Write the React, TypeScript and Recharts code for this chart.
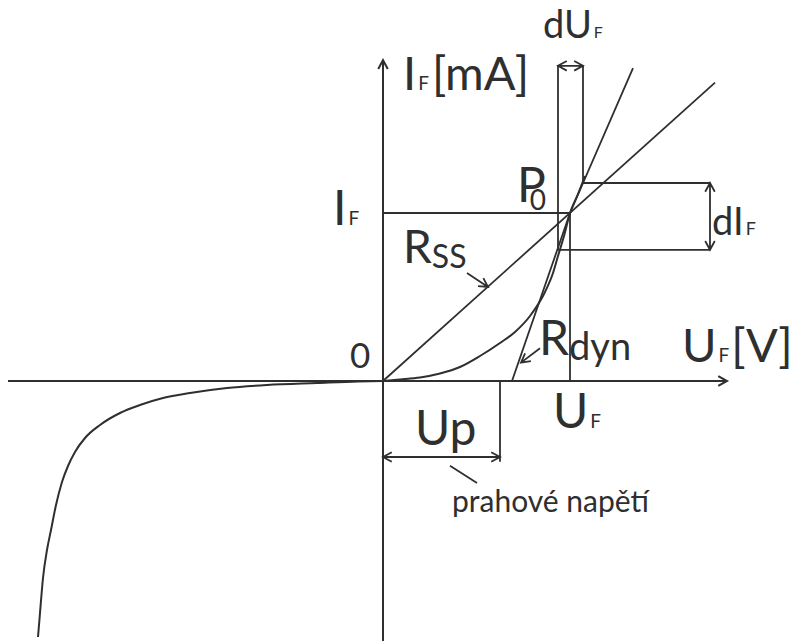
import { ComposedChart, Line, ReferenceDot, ReferenceLine, XAxis, YAxis } from 'recharts'

const INK = '#2f2f2f'
const FONT = 'Lato, "Open Sans", sans-serif'

// plot window, U in V and I in mA
const uDomain = [-1.915, 2.055]
const iDomain = [-32.5, 47.625]

// forward branch of the diode characteristic
const forwardCurve = [
  { u: 0, i: 0 },
  { u: 0.085, i: 0.19 },
  { u: 0.185, i: 0.44 },
  { u: 0.285, i: 0.94 },
  { u: 0.385, i: 1.75 },
  { u: 0.485, i: 3.125 },
  { u: 0.585, i: 4.75 },
  { u: 0.66, i: 6.125 },
  { u: 0.735, i: 8.125 },
  { u: 0.81, i: 11.125 },
  { u: 0.85, i: 13.5 },
  { u: 0.875, i: 15.625 },
  { u: 0.905, i: 18.125 },
  { u: 0.935, i: 21 },
  { u: 0.975, i: 23.375 },
  { u: 1.01, i: 25.625 },
]

// reverse branch (breakdown)
const reverseCurve = [
  { u: -1.725, i: -32 },
  { u: -1.715, i: -29 },
  { u: -1.7, i: -24.625 },
  { u: -1.68, i: -21.125 },
  { u: -1.66, i: -18.625 },
  { u: -1.635, i: -15.5 },
  { u: -1.605, i: -12.625 },
  { u: -1.575, i: -10.625 },
  { u: -1.54, i: -8.875 },
  { u: -1.49, i: -7.125 },
  { u: -1.415, i: -5.5 },
  { u: -1.315, i: -4 },
  { u: -1.215, i: -3 },
  { u: -1.1, i: -2.125 },
  { u: -0.965, i: -1.5 },
  { u: -0.78, i: -0.875 },
  { u: -0.58, i: -0.5 },
  { u: -0.33, i: -0.25 },
  { u: -0.125, i: -0.06 },
  { u: 0, i: 0 },
]

// operating point P0 and threshold voltage
const U_F = 0.935
const I_F = 21
const U_P = 0.585

// increments around P0
const dU = [0.875, 1.0]
const dI = [16.4, 24.75]
const dUArrowI = 39.4
const dIArrowU = 1.635

// static resistance (secant) and dynamic resistance (tangent)
const rssLine = [
  { u: 0, i: 0 },
  { u: 1.66, i: 37.3 },
]
const rdynLine = [
  { u: 0.645, i: 0 },
  { u: 0.935, i: 21 },
  { u: 1.25, i: 39.1 },
]

type Part = { t: string; size: number; dx?: number; dy?: number }

const textShape = (parts: Part[]) => (p: any) => (
  <text x={p.cx} y={p.cy} fill={INK} fontFamily={FONT}>
    {parts.map((s, k) => (
      <tspan key={k} fontSize={s.size} dx={s.dx} dy={s.dy}>
        {s.t}
      </tspan>
    ))}
  </text>
)

const head = (tx: number, ty: number, fx: number, fy: number) => {
  const a = Math.atan2(ty - fy, tx - fx)
  const s = 10
  const w = 0.5
  return (
    `M${tx - s * Math.cos(a - w)},${ty - s * Math.sin(a - w)}` +
    `L${tx},${ty}` +
    `L${tx - s * Math.cos(a + w)},${ty - s * Math.sin(a + w)}`
  )
}

const arrow =
  (start: boolean, end: boolean, width = 1.8) =>
  (p: any) => {
    const { x1, y1, x2, y2 } = p
    let d = `M${x1},${y1}L${x2},${y2}`
    if (end) d += head(x2, y2, x1, y1)
    if (start) d += head(x1, y1, x2, y2)
    return <path d={d} stroke={INK} strokeWidth={width} fill="none" />
  }

const seg = (u1: number, i1: number, u2: number, i2: number) => [
  { x: u1, y: i1 },
  { x: u2, y: i2 },
]

export default function App() {
  return (
    <div style={{ position: 'fixed', left: 0, top: 0, background: '#fff' }}>
      <ComposedChart width={794} height={641} margin={{ top: 0, right: 0, bottom: 0, left: 0 }}>
        <XAxis type="number" dataKey="u" domain={uDomain} allowDataOverflow hide />
        <YAxis type="number" domain={iDomain} allowDataOverflow hide />

        {/* axes */}
        <ReferenceLine segment={seg(-1.875, 0, 1.72, 0)} shape={arrow(false, true, 2)} />
        <ReferenceLine segment={seg(0, -32.5, 0, 40.1)} shape={arrow(false, true, 2)} />

        {/* operating point guides */}
        <ReferenceLine segment={seg(0, I_F, U_F, I_F)} shape={arrow(false, false)} />
        <ReferenceLine segment={seg(U_F, 0, U_F, I_F)} shape={arrow(false, false)} />

        {/* dU box */}
        <ReferenceLine segment={seg(dU[0], dI[0], dU[0], dUArrowI + 0.1)} shape={arrow(false, false)} />
        <ReferenceLine segment={seg(dU[1], dI[1], dU[1], dUArrowI + 0.1)} shape={arrow(false, false)} />
        <ReferenceLine segment={seg(dU[0], dUArrowI, dU[1], dUArrowI)} shape={arrow(true, true)} />

        {/* dI box */}
        <ReferenceLine segment={seg(dU[1], dI[1], dIArrowU, dI[1])} shape={arrow(false, false)} />
        <ReferenceLine segment={seg(dU[0], dI[0], dIArrowU, dI[0])} shape={arrow(false, false)} />
        <ReferenceLine segment={seg(dIArrowU, dI[0], dIArrowU, dI[1])} shape={arrow(true, true)} />

        {/* threshold voltage */}
        <ReferenceLine segment={seg(U_P, 0, U_P, -10.1)} shape={arrow(false, false)} />
        <ReferenceLine segment={seg(0, -9.5, U_P, -9.5)} shape={arrow(true, true)} />
        <ReferenceLine segment={seg(0.335, -10.6, 0.47, -12.75)} shape={arrow(false, false)} />

        {/* label pointers */}
        <ReferenceLine segment={seg(0.42, 13.5, 0.525, 11.75)} shape={arrow(false, true)} />
        <ReferenceLine segment={seg(0.785, 4.1, 0.69, 2.3)} shape={arrow(false, true)} />

        <Line data={rssLine} dataKey="i" type="linear" stroke={INK} strokeWidth={1.8} dot={false} activeDot={false} isAnimationActive={false} />
        <Line data={rdynLine} dataKey="i" type="linear" stroke={INK} strokeWidth={1.8} dot={false} activeDot={false} isAnimationActive={false} />
        <Line data={forwardCurve} dataKey="i" type="monotone" stroke={INK} strokeWidth={2} dot={false} activeDot={false} isAnimationActive={false} />
        <Line data={reverseCurve} dataKey="i" type="monotone" stroke={INK} strokeWidth={2} dot={false} activeDot={false} isAnimationActive={false} />

        {/* labels */}
        <ReferenceDot x={0.1} y={36.375} r={0} shape={textShape([{ t: 'I', size: 47 }, { t: 'F', size: 19, dx: 2 }, { t: '[mA]', size: 47, dx: 3 }])} />
        <ReferenceDot x={-0.25} y={19.5} r={0} shape={textShape([{ t: 'I', size: 48 }, { t: 'F', size: 19, dx: 2 }])} />
        <ReferenceDot x={0.67} y={22.375} r={0} shape={textShape([{ t: 'P', size: 48 }, { t: '0', size: 28, dx: -16, dy: 8 }])} />
        <ReferenceDot x={0.1} y={14.75} r={0} shape={textShape([{ t: 'R', size: 46 }, { t: 'SS', size: 32, dy: 5 }])} />
        <ReferenceDot x={0.78} y={3.25} r={0} shape={textShape([{ t: 'R', size: 48 }, { t: 'dyn', size: 38, dy: 5 }])} />
        <ReferenceDot x={-0.165} y={1.625} r={0} shape={textShape([{ t: '0', size: 35 }])} />
        <ReferenceDot x={1.495} y={2.375} r={0} shape={textShape([{ t: 'U', size: 47 }, { t: 'F', size: 19, dx: 2 }, { t: '[V]', size: 47, dx: 2 }])} />
        <ReferenceDot x={0.85} y={-5.875} r={0} shape={textShape([{ t: 'U', size: 48 }, { t: 'F', size: 19, dx: 2 }])} />
        <ReferenceDot x={0.16} y={-8} r={0} shape={textShape([{ t: 'Up', size: 48 }])} />
        <ReferenceDot x={0.8} y={42.9} r={0} shape={textShape([{ t: 'dU', size: 38 }, { t: 'F', size: 16, dx: 2 }])} />
        <ReferenceDot x={1.645} y={18.25} r={0} shape={textShape([{ t: 'dI', size: 38 }, { t: 'F', size: 18, dx: 2 }])} />
        <ReferenceDot x={0.345} y={-16.375} r={0} shape={textShape([{ t: 'prahové napětí', size: 30 }])} />
      </ComposedChart>
    </div>
  )
}
